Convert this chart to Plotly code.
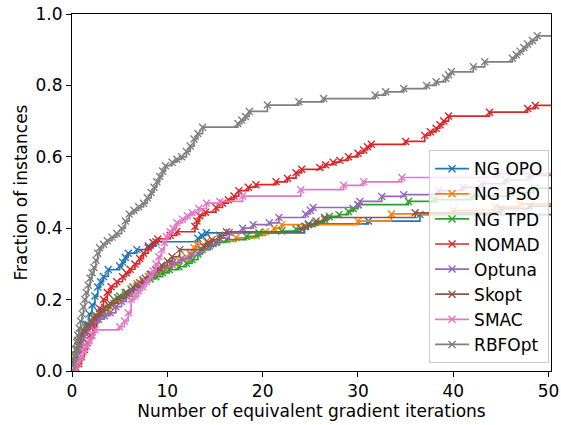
import plotly.graph_objects as go

# ---- data ----
names = ["NG OPO", "NG PSO", "NG TPD", "NOMAD", "Optuna", "Skopt", "SMAC", "RBFOpt"]
colors = ["#1f77b4", "#ff7f0e", "#2ca02c", "#d62728", "#9467bd", "#8c564b", "#e377c2", "#7f7f7f"]

ngopo_x = [0, 0.3, 0.6, 0.9, 1.2, 1.5, 1.8, 2.1, 2.4, 2.7, 3.0, 3.3, 3.8, 5.0, 5.3, 5.6, 5.9, 6.8, 8.0, 8.8,
           13.2, 13.6, 14.1, 24.4, 24.8, 31.1, 36.5, 51]
ngopo_y = [0, 0.03, 0.06, 0.09, 0.11, 0.13, 0.16, 0.185, 0.21, 0.235, 0.25, 0.265, 0.284, 0.294, 0.305, 0.318,
           0.33, 0.34, 0.35, 0.362, 0.372, 0.38, 0.387, 0.405, 0.412, 0.42, 0.438, 0.438]

ngpso_x = [0, 0.2, 0.4, 0.6, 0.8, 1.0, 1.4, 2.0, 2.6, 3.2, 3.8, 4.4, 5.0, 5.6, 6.2, 6.8, 7.4, 8.0, 8.6, 9.2,
           9.8, 10.5, 11.2, 12.0, 12.4, 12.8, 13.1, 14.1, 17.2, 19.3, 20.3, 21.2, 22.0, 30.0, 33.5, 40.0, 44.4,
           47.0, 51]
ngpso_y = [0, 0.02, 0.04, 0.06, 0.08, 0.1, 0.12, 0.13, 0.145, 0.16, 0.175, 0.19, 0.2, 0.215, 0.23, 0.245, 0.255,
           0.265, 0.27, 0.278, 0.288, 0.298, 0.31, 0.32, 0.33, 0.345, 0.355, 0.363, 0.373, 0.38, 0.39, 0.4, 0.41,
           0.42, 0.44, 0.45, 0.46, 0.468, 0.468]

ngtpd_x = [0, 0.2, 0.4, 0.6, 0.8, 1.0, 1.5, 2.0, 2.6, 3.2, 3.8, 4.4, 5.0, 5.6, 6.2, 6.8, 7.5, 8.2, 8.8, 9.5,
           10.2, 11.2, 12.0, 12.6, 13.2, 13.7, 14.4, 15.1, 16.2, 18.3, 19.6, 22.0, 23.5, 24.5, 25.5, 26.5, 27.0,
           28.0, 29.0, 29.5, 30.0, 35.3, 38.0, 42.0, 46.0, 48.5, 51]
ngtpd_y = [0, 0.02, 0.045, 0.07, 0.09, 0.105, 0.125, 0.14, 0.155, 0.17, 0.185, 0.2, 0.21, 0.22, 0.228, 0.236,
           0.25, 0.258, 0.264, 0.275, 0.284, 0.292, 0.302, 0.312, 0.328, 0.34, 0.35, 0.36, 0.368, 0.377, 0.387,
           0.392, 0.398, 0.405, 0.415, 0.425, 0.433, 0.438, 0.447, 0.455, 0.466, 0.475, 0.48, 0.49, 0.5, 0.512,
           0.512]

nomad_x = [0, 0.4, 0.7, 1.0, 1.3, 1.6, 1.9, 2.2, 2.6, 2.9, 3.3, 3.7, 4.1, 4.7, 5.3, 5.7, 6.1, 6.6, 7.1, 7.5,
           8.0, 8.5, 9.0, 10.3, 11.0, 12.9, 13.1, 13.4, 14.0, 15.1, 15.8, 16.4, 17.0, 17.5, 18.5, 19.3, 21.4,
           22.6, 23.5, 24.1, 26.0, 26.6, 27.4, 28.1, 29.0, 30.0, 30.6, 31.0, 31.4, 35.0, 37.0, 37.6, 38.2, 38.6,
           39.0, 39.5, 43.8, 47.8, 48.6, 51]
nomad_y = [0, 0.01, 0.02, 0.04, 0.06, 0.08, 0.1, 0.124, 0.15, 0.175, 0.2, 0.22, 0.236, 0.25, 0.264, 0.275,
           0.285, 0.3, 0.315, 0.33, 0.345, 0.36, 0.37, 0.38, 0.39, 0.405, 0.42, 0.435, 0.445, 0.458, 0.47, 0.48,
           0.49, 0.505, 0.515, 0.522, 0.53, 0.54, 0.555, 0.565, 0.57, 0.578, 0.585, 0.59, 0.6, 0.61, 0.619,
           0.628, 0.635, 0.643, 0.66, 0.67, 0.68, 0.69, 0.7, 0.714, 0.725, 0.735, 0.744, 0.744]

optuna_x = [0, 0.3, 0.6, 0.9, 1.2, 1.6, 2.0, 2.8, 3.4, 4.0, 4.6, 5.2, 5.7, 6.3, 6.9, 7.5, 8.2, 8.8, 9.2, 10.5,
            11.5, 12.5, 13.5, 14.5, 15.5, 16.5, 17.9, 19.0, 20.7, 21.7, 24.5, 25.0, 25.3, 30.0, 30.2, 32.5, 34.8,
            38.5, 41.0, 43.0, 45.5, 48.0, 51]
optuna_y = [0, 0.02, 0.05, 0.08, 0.1, 0.12, 0.135, 0.145, 0.155, 0.163, 0.18, 0.195, 0.21, 0.225, 0.24, 0.255,
            0.27, 0.282, 0.29, 0.303, 0.315, 0.325, 0.34, 0.355, 0.372, 0.388, 0.4, 0.41, 0.415, 0.43, 0.44, 0.45,
            0.458, 0.466, 0.475, 0.489, 0.494, 0.505, 0.515, 0.525, 0.535, 0.548, 0.548]

skopt_x = [0, 0.2, 0.4, 0.6, 0.9, 1.2, 1.7, 2.2, 2.8, 3.4, 4.0, 4.8, 5.7, 6.4, 7.1, 7.7, 8.3, 8.8, 9.4, 10.0,
           10.5, 11.3, 13.8, 14.3, 14.7, 15.5, 16.2, 24.0, 24.8, 25.6, 26.5, 36.0, 45.0, 48.0, 51]
skopt_y = [0, 0.03, 0.06, 0.085, 0.105, 0.115, 0.13, 0.15, 0.165, 0.178, 0.19, 0.205, 0.22, 0.235, 0.247, 0.26,
           0.272, 0.284, 0.296, 0.308, 0.32, 0.34, 0.35, 0.36, 0.368, 0.38, 0.39, 0.4, 0.41, 0.42, 0.43, 0.443,
           0.455, 0.462, 0.462]

smac_x = [0, 0.3, 0.6, 0.9, 1.2, 1.5, 1.8, 2.1, 2.4, 5.0, 5.5, 5.9, 6.2, 6.6, 7.0, 7.4, 7.8, 8.2, 8.5, 8.8, 9.1,
          9.4, 9.7, 9.9, 10.3, 10.6, 11.0, 11.6, 12.1, 12.6, 13.3, 14.1, 15.5, 17.9, 24.0, 28.5, 30.6, 34.6, 44.7,
          51]
smac_y = [0, 0.01, 0.025, 0.04, 0.055, 0.07, 0.085, 0.1, 0.115, 0.124, 0.14, 0.163, 0.2, 0.21, 0.225, 0.236,
          0.25, 0.265, 0.28, 0.3, 0.32, 0.34, 0.36, 0.377, 0.39, 0.4, 0.415, 0.425, 0.435, 0.443, 0.455, 0.47,
          0.475, 0.49, 0.508, 0.52, 0.53, 0.542, 0.553, 0.553]

rbfopt_x = [0, 0.15, 0.25, 0.4, 0.5, 0.6, 0.75, 0.9, 1.05, 1.2, 1.35, 1.5, 1.7, 1.9, 2.1, 2.3, 2.5, 2.7, 2.9,
            3.3, 3.7, 4.2, 4.7, 5.2, 5.6, 6.0, 6.5, 7.0, 7.5, 7.9, 8.3, 8.6, 8.9, 9.2, 9.5, 9.8, 10.5, 11.0, 11.5,
            12.0, 12.4, 12.8, 13.2, 13.7, 17.4, 17.8, 18.2, 18.6, 20.5, 23.8, 26.4, 31.8, 32.9, 34.8, 37.2, 38.2,
            39.2, 39.5, 39.8, 42.1, 43.3, 46.2, 46.6, 47.0, 47.4, 47.8, 48.3, 48.8, 51]
rbfopt_y = [0, 0.02, 0.04, 0.06, 0.08, 0.1, 0.12, 0.14, 0.16, 0.18, 0.2, 0.22, 0.24, 0.26, 0.275, 0.29, 0.31,
            0.33, 0.345, 0.355, 0.365, 0.375, 0.385, 0.4, 0.42, 0.44, 0.45, 0.46, 0.47, 0.485, 0.5, 0.515, 0.53,
            0.545, 0.56, 0.575, 0.585, 0.593, 0.6, 0.615, 0.63, 0.65, 0.665, 0.683, 0.693, 0.703, 0.713, 0.727,
            0.745, 0.754, 0.763, 0.773, 0.782, 0.791, 0.8, 0.81, 0.82, 0.83, 0.838, 0.852, 0.866, 0.876, 0.886,
            0.896, 0.906, 0.916, 0.926, 0.939, 0.939]

xs = [ngopo_x, ngpso_x, ngtpd_x, nomad_x, optuna_x, skopt_x, smac_x, rbfopt_x]
ys = [ngopo_y, ngpso_y, ngtpd_y, nomad_y, optuna_y, skopt_y, smac_y, rbfopt_y]

x_ticks = [0, 10, 20, 30, 40, 50]
y_ticks = [0.0, 0.2, 0.4, 0.6, 0.8, 1.0]

FONT = "DejaVu Sans"
FS = 17

fig = go.Figure()
for name, color, x, y in zip(names, colors, xs, ys):
    fig.add_trace(go.Scatter(
        x=x, y=y, name=name, mode="lines+markers",
        line=dict(color=color, width=1.7, shape="hv"),
        marker=dict(symbol="x-thin", size=7, line=dict(color=color, width=1.4), color=color),
        legendgroup=name, cliponaxis=True,
    ))

axis_common = dict(
    showline=True, mirror=True, linecolor="black", linewidth=1,
    ticks="outside", ticklen=5, tickwidth=1, tickcolor="black",
    showgrid=False, zeroline=False,
    tickfont=dict(family=FONT, size=FS, color="black"),
)

fig.update_xaxes(range=[0, 50.25], tickvals=x_ticks, ticktext=[str(v) for v in x_ticks],
                 title=dict(text="Number of equivalent gradient iterations",
                            font=dict(family=FONT, size=FS, color="black"), standoff=4),
                 **axis_common)
fig.update_yaxes(range=[0, 1.0], tickvals=y_ticks, ticktext=[f"{v:.1f}" for v in y_ticks],
                 title=dict(text="Fraction of instances",
                            font=dict(family=FONT, size=FS, color="black"), standoff=3),
                 **axis_common)

fig.update_layout(
    width=561, height=425,
    margin=dict(l=72, r=10, t=14, b=54, autoexpand=False),
    paper_bgcolor="white", plot_bgcolor="white",
    font=dict(family=FONT, size=FS, color="black"),
    legend=dict(
        x=0.996, y=0.022, xanchor="right", yanchor="bottom",
        bgcolor="rgba(255,255,255,0.8)", bordercolor="#cccccc", borderwidth=1,
        font=dict(family=FONT, size=FS, color="black"),
        traceorder="grouped", tracegroupgap=0, itemwidth=34,
    ),
    showlegend=True,
)

fig.write_html(
    "out.html",
    config={"displayModeBar": False},
    post_script="document.body.style.margin='0';document.body.style.padding='0';",
)
